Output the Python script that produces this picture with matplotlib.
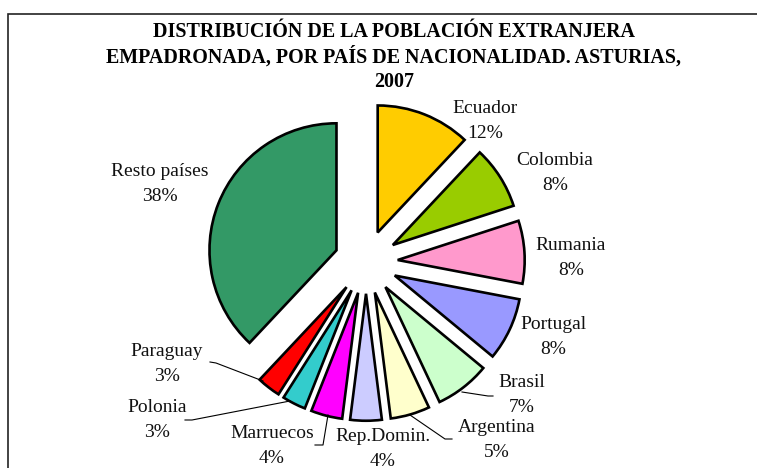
import matplotlib
matplotlib.use("Agg")

import matplotlib.pyplot as plt
from matplotlib.patches import Rectangle

paises = ["Ecuador", "Colombia", "Rumania", "Portugal", "Brasil", "Argentina",
          "Rep.Domin.", "Marruecos", "Polonia", "Paraguay", "Resto países"]
pct = [12, 8, 8, 8, 7, 5, 4, 4, 3, 3, 38]
colores = ["#FFCC00", "#99CC00", "#FF99CC", "#9999FF", "#CCFFCC", "#FFFFCC",
           "#CCCCFF", "#FF00FF", "#33CCCC", "#FF0000", "#339966"]
titulo = ["DISTRIBUCIÓN DE LA POBLACIÓN EXTRANJERA",
          "EMPADRONADA, POR PAÍS DE NACIONALIDAD. ASTURIAS,",
          "2007"]

W, H = 757, 468
cx, cy, r = 366, 262, 127

# label centres (px, image coords) and leader lines
lpos = {
    "Ecuador": (485, 121), "Colombia": (555, 173), "Rumania": (571, 258),
    "Portugal": (553, 337), "Brasil": (522, 395), "Argentina": (497, 440),
    "Rep.Domin.": (383, 449), "Marruecos": (272, 446), "Polonia": (157, 420),
    "Paraguay": (167, 364), "Resto países": (160, 184),
}
lineas = {
    "Paraguay": [(210, 362), (216, 363), (263, 381)],
    "Polonia": [(185, 420), (192, 420), (290, 401)],
    "Marruecos": [(315, 445), (323, 445), (328, 415)],
    "Argentina": [(452, 439), (445, 439), (410, 415)],
    "Brasil": [(493, 396), (488, 396), (462, 392)],
}

plt.rcParams["font.family"] = ["Liberation Serif", "DejaVu Serif"]

fig = plt.figure(figsize=(W / 100, H / 100), dpi=100)
ax = fig.add_axes([0, 0, 1, 1])

ax.pie(pct, colors=colores, startangle=90, counterclock=False,
       explode=[0.25] * len(pct), radius=1,
       wedgeprops=dict(edgecolor="black", linewidth=1.9))

ax.set_xlim(-cx / r, (W - cx) / r)
ax.set_ylim(-(H - cy) / r, cy / r)
ax.set_aspect("auto")
ax.axis("off")


def px(x, y):
    return (x - cx) / r, (cy - y) / r


for p, v in zip(paises, pct):
    x, y = lpos[p]
    ax.text(*px(x, y), f"{p}\n{v}%", ha="center", va="center", fontsize=14,
            linespacing=1.55, color="#111111")
    if p in lineas:
        pts = [px(a, b) for a, b in lineas[p]]
        ax.plot([q[0] for q in pts], [q[1] for q in pts], color="black", lw=0.8)

for i, t in enumerate(titulo):
    fig.text(394 / W, 1 - (32 + 25 * i) / H, t, ha="center", va="center",
             fontsize=14.4, fontweight="bold")

fig.add_artist(Rectangle((8 / W, -0.1), 1.2, 1 - 14 / H + 0.1,
                         transform=fig.transFigure, fill=False,
                         edgecolor="#222222", lw=1.2))

plt.savefig("out.png", dpi=100)
